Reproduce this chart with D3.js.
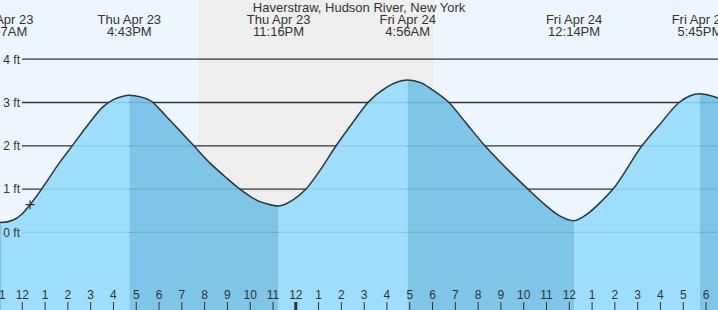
<!DOCTYPE html>
<html><head><meta charset="utf-8">
<script src="https://cdn.jsdelivr.net/npm/d3@7"></script>
<style>html,body{margin:0;padding:0;overflow:hidden;background:#EDF6FE}svg{display:block}</style>
</head><body><svg id="c" width="718" height="310"></svg>
<script>
// ---- data (hours since Thu Apr 23 00:00, feet) ----
const title = "Haverstraw, Hudson River, New York";
const tideTimes   = [10.0, 10.4, 10.8, 11.117, 11.6, 12.0, 12.36, 12.87, 13.0, 13.68, 14.0, 15.0, 15.5, 16.0, 16.4, 16.717, 17.2, 17.76, 18.0, 18.5, 19.0, 19.55, 20.26, 21.0, 21.57, 22.0, 22.45, 22.75, 23.267, 23.9, 24.47, 25.0, 25.79, 26.5, 27.19, 28.0, 28.5, 28.933, 29.5, 30.0, 30.74, 31.5, 32.32, 32.98, 34.21, 35.0, 35.6, 36.233, 36.8, 37.4, 37.94, 39.21, 40.0, 40.84, 41.3, 41.75, 42.2, 42.55, 43.0];
const tideHeights = [0.40, 0.30, 0.25, 0.23, 0.28, 0.42, 0.64, 1.0, 1.1, 1.63, 1.85, 2.55, 2.87, 3.06, 3.14, 3.17, 3.13, 3.0, 2.87, 2.59, 2.31, 2.0, 1.6, 1.25, 1.0, 0.84, 0.71, 0.66, 0.61, 0.75, 1.0, 1.37, 2.0, 2.52, 3.0, 3.35, 3.48, 3.52, 3.46, 3.3, 3.0, 2.52, 2.0, 1.63, 1.0, 0.62, 0.38, 0.27, 0.42, 0.7, 1.0, 2.0, 2.5, 3.0, 3.15, 3.2, 3.16, 3.1, 2.97];
const eventTimes = [11.117, 16.717, 23.267, 28.933, 36.233, 41.75];
const eventTypes = ["L", "H", "L", "H", "L", "H"];
const eventDays  = ["Thu Apr 23", "Thu Apr 23", "Thu Apr 23", "Fri Apr 24", "Fri Apr 24", "Fri Apr 24"];
const eventClock = ["11:07AM", "4:43PM", "11:16PM", "4:56AM", "12:14PM", "5:45PM"];
const nightStart = 19.73, nightEnd = 30.06;
const heightTicks = [0, 1, 2, 3, 4];
const hourTicks = d3.range(11, 43);
const nowTime = 12.36, nowHeight = 0.64;

// ---- layout ----
const W = 718, H = 310;
const FONT = "'Liberation Sans', Arial, sans-serif";
const x = d3.scaleLinear().domain([24, 36]).range([295.3, 568.8]);
const y = d3.scaleLinear().domain([0, 4]).range([232.4, 59.2]);
const svg = d3.select("#c");

// background: day / night
svg.append("rect").attr("x", 0).attr("y", 0).attr("width", W).attr("height", H).attr("fill", "#EDF6FE");
svg.append("rect").attr("x", x(nightStart)).attr("y", 0)
  .attr("width", x(nightEnd) - x(nightStart)).attr("height", H).attr("fill", "#EEEEEE");

// gridlines
svg.append("g").selectAll("line").data(heightTicks).join("line")
  .attr("x1", 22).attr("x2", W).attr("y1", d => y(d)).attr("y2", d => y(d))
  .attr("stroke", "#333").attr("stroke-width", 1.3);

// tide area with rising/falling bands
const pts = tideTimes.map((t, i) => [t, tideHeights[i]]);
const curve = d3.curveMonotoneX;
const area = d3.area().x(d => x(d[0])).y0(H).y1(d => y(d[1])).curve(curve);
svg.append("clipPath").attr("id", "tideclip").append("path").attr("d", area(pts));
const dom = x.invert(0), domEnd = x.invert(W);
const bounds = [Math.min(dom, tideTimes[0])].concat(eventTimes).concat([Math.max(domEnd, tideTimes[tideTimes.length-1])]);
const bands = [];
for (let i = 0; i < bounds.length - 1; i++) {
  const falling = i < eventTypes.length ? eventTypes[i] === "L" : eventTypes[eventTypes.length-1] === "H";
  bands.push({a: bounds[i], b: bounds[i+1], falling});
}
svg.append("g").attr("clip-path", "url(#tideclip)").selectAll("rect").data(bands).join("rect")
  .attr("x", d => x(d.a)).attr("width", d => x(d.b) - x(d.a))
  .attr("y", 0).attr("height", H)
  .attr("fill", d => d.falling ? "#72C0E4" : "#95DBFD").attr("fill-opacity", 0.9);

// curve line
const line = d3.line().x(d => x(d[0])).y(d => y(d[1])).curve(curve);
svg.append("path").attr("d", line(pts)).attr("fill", "none").attr("stroke", "#333").attr("stroke-width", 1.5);

// current time marker
const nx = x(nowTime), ny = y(nowHeight);
svg.append("path").attr("d", `M${nx-4.5},${ny}H${nx+4.5}M${nx},${ny-4.5}V${ny+4.5}`)
  .attr("stroke", "#333").attr("stroke-width", 1.2);

// y labels
svg.append("g").selectAll("text").data(heightTicks).join("text")
  .attr("x", 20).attr("y", d => y(d) + 4.3).attr("text-anchor", "end")
  .attr("font-family", FONT).attr("font-size", 12).attr("fill", "#333")
  .text(d => d + " ft");

// bottom hour axis
const axis = d3.axisTop(x).tickValues(hourTicks).tickSize(8).tickPadding(3)
  .tickFormat(d => { const h = ((d % 12) + 12) % 12; return h === 0 ? "12" : String(h); });
const ax = svg.append("g").attr("transform", `translate(0,${H})`).call(axis);
ax.select(".domain").remove();
ax.selectAll("text").attr("font-family", FONT).attr("font-size", 12).attr("fill", "#333");
ax.selectAll("line").attr("stroke", "#333");
ax.selectAll(".tick").filter(d => d % 24 === 0).select("line").attr("stroke-width", 3);

// title
svg.append("text").attr("x", W / 2).attr("y", 12).attr("text-anchor", "middle")
  .attr("font-family", FONT).attr("font-size", 13).attr("fill", "#333").text(title);

// event labels
const ev = svg.append("g").selectAll("text").data(eventTimes).join("text")
  .attr("text-anchor", "middle").attr("font-family", FONT).attr("font-size", 13).attr("fill", "#333");
ev.append("tspan").attr("x", d => x(d)).attr("y", 24).text((d, i) => eventDays[i]);
ev.append("tspan").attr("x", d => x(d)).attr("y", 36).text((d, i) => eventClock[i]);
</script></body></html>
